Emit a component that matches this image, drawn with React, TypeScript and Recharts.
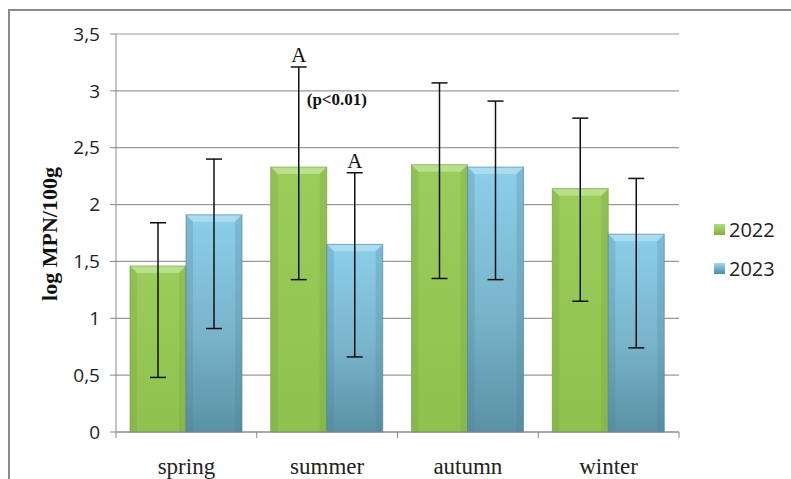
import { Bar, BarChart, CartesianGrid, ErrorBar, Label, LabelList, XAxis, YAxis } from 'recharts';

const seasons = ['spring', 'summer', 'autumn', 'winter'];
const values2022 = [1.46, 2.33, 2.35, 2.14];
const values2023 = [1.91, 1.65, 2.33, 1.74];
const high2022 = [1.84, 3.21, 3.07, 2.76];
const low2022 = [0.48, 1.34, 1.35, 1.15];
const high2023 = [2.4, 2.28, 2.91, 2.23];
const low2023 = [0.91, 0.66, 1.34, 0.74];
const yTicks = [0, 0.5, 1, 1.5, 2, 2.5, 3, 3.5];
const markedIndex = 1; // summer
const pValueLevel = 2.88;

const data = seasons.map((season, i) => ({
  season,
  y2022: values2022[i],
  y2023: values2023[i],
  err2022: [values2022[i] - low2022[i], high2022[i] - values2022[i]],
  err2023: [values2023[i] - low2023[i], high2023[i] - values2023[i]],
}));

const W = 791;
const H = 479;
const xAxisHeight = 47;
const margin = { top: 34, right: 112, bottom: 0, left: 0 };
const yAxisWidth = 116;
const band = (W - margin.right - yAxisWidth) / seasons.length;

const sans = '"Open Sans", "Noto Sans", sans-serif';
const serif = '"Liberation Serif", "DejaVu Serif", serif';

const BevelBar = (props: any) => {
  const { x, y, width, height, fill, edge, top } = props;
  if (!height || height <= 0) return null;
  const b = 7;
  return (
    <g>
      <rect x={x} y={y} width={width} height={height} fill={fill} />
      <polygon points={`${x},${y} ${x + width},${y} ${x + width - b},${y + b} ${x + b},${y + b}`} fill={top} />
      <polygon points={`${x},${y} ${x + b},${y + b} ${x + b},${y + height} ${x},${y + height}`} fill={edge} opacity={0.25} />
      <polygon points={`${x + width},${y} ${x + width - b},${y + b} ${x + width - b},${y + height} ${x + width},${y + height}`} fill={edge} opacity={0.25} />
      <rect x={x} y={y} width={width} height={height} fill="none" stroke={edge} strokeOpacity={0.6} strokeWidth={1} />
    </g>
  );
};

const markLabel = (values: number[], highs: number[], withP: boolean) => (props: any) => {
  const { x, y, width, height, index } = props;
  if (index !== markedIndex) return null;
  const v = values[index];
  const pxPerUnit = height / v;
  const topY = y - (highs[index] - v) * pxPerUnit;
  const cx = x + width / 2;
  return (
    <g>
      <text x={cx} y={topY - 5} textAnchor="middle" fontFamily={serif} fontSize={21} fill="#111">
        A
      </text>
      {withP && (
        <text x={cx + 8} y={y - (pValueLevel - v) * pxPerUnit} fontFamily={serif} fontWeight="bold" fontSize={17} fill="#111">
          (p&lt;0.01)
        </text>
      )}
    </g>
  );
};

const XTick = (props: any) => {
  const { x, y, payload, index } = props;
  const left = x - band / 2;
  return (
    <g>
      <line x1={left} y1={y - 8} x2={left} y2={y - 2} stroke="#888" />
      {index === seasons.length - 1 && <line x1={left + band} y1={y - 8} x2={left + band} y2={y - 2} stroke="#888" />}
      <text x={x} y={y + 34} textAnchor="middle" fontFamily={serif} fontSize={23} fill="#222">
        {payload.value}
      </text>
    </g>
  );
};

const legendItems = [
  { label: '2022', from: '#b6dd7f', to: '#7fb13c' },
  { label: '2023', from: '#9fd8ee', to: '#4f8aa0' },
];

const LegendBox = () => (
  <div style={{ position: 'absolute', left: 714, top: 215, display: 'flex', flexDirection: 'column', gap: 11 }}>
    {legendItems.map((it) => (
      <div key={it.label} style={{ display: 'flex', alignItems: 'center', height: 28 }}>
        <span
          style={{
            width: 11,
            height: 11,
            marginRight: 4,
            background: `linear-gradient(${it.from}, ${it.to})`,
            display: 'inline-block',
          }}
        />
        <span style={{ fontFamily: sans, fontSize: 20, color: '#222' }}>{it.label}</span>
      </div>
    ))}
  </div>
);

export default function App() {
  return (
    <div style={{ position: 'absolute', left: 0, top: 0, width: W, height: H, background: '#fff', overflow: 'hidden' }}>
      <div
        style={{
          position: 'absolute',
          left: 8,
          top: 9,
          width: W,
          height: H,
          borderTop: '2px solid #8a8a8a',
          borderLeft: '2px solid #8a8a8a',
        }}
      />
      <BarChart width={W} height={H} data={data} margin={margin} barGap={0} barSize={56}>
        <defs>
          <linearGradient id="g2022" x1="0" y1="0" x2="0" y2="1">
            <stop offset="0%" stopColor="#9ccd5c" />
            <stop offset="100%" stopColor="#8fc14f" />
          </linearGradient>
          <linearGradient id="g2023" x1="0" y1="0" x2="0" y2="1">
            <stop offset="0%" stopColor="#8ccfea" />
            <stop offset="55%" stopColor="#79b4cb" />
            <stop offset="100%" stopColor="#5a91a6" />
          </linearGradient>
        </defs>
        <CartesianGrid vertical={false} stroke="#9a9a9a" strokeWidth={1.2} />
        <XAxis dataKey="season" height={xAxisHeight} stroke="#888" tickLine={false} tick={<XTick />} interval={0} />
        <YAxis
          width={yAxisWidth}
          domain={[0, 3.5]}
          ticks={yTicks}
          stroke="#888"
          tickSize={6}
          tickMargin={10}
          tickFormatter={(v: number) => String(v).replace('.', ',')}
          tick={{ fontFamily: sans, fontSize: 19, fill: '#222' }}
        >
          <Label
            content={() => (
              <text
                x={49}
                y={234}
                transform="rotate(-90 49 234)"
                textAnchor="middle"
                dominantBaseline="central"
                fontFamily={serif}
                fontWeight="bold"
                fontSize={22}
                fill="#111"
              >
                log MPN/100g
              </text>
            )}
          />
        </YAxis>
        <Bar
          dataKey="y2022"
          name="2022"
          fill="url(#g2022)"
          isAnimationActive={false}
          shape={(p: any) => <BevelBar {...p} fill="url(#g2022)" edge="#6f9a3a" top="#b9e08a" />}
        >
          <ErrorBar dataKey="err2022" width={8} stroke="#111" strokeWidth={1.5} direction="y" />
          <LabelList content={markLabel(values2022, high2022, true)} />
        </Bar>
        <Bar
          dataKey="y2023"
          name="2023"
          fill="url(#g2023)"
          isAnimationActive={false}
          shape={(p: any) => <BevelBar {...p} fill="url(#g2023)" edge="#4d7f93" top="#a9dcf0" />}
        >
          <ErrorBar dataKey="err2023" width={8} stroke="#111" strokeWidth={1.5} direction="y" />
          <LabelList content={markLabel(values2023, high2023, false)} />
        </Bar>
      </BarChart>
      <LegendBox />
    </div>
  );
}
